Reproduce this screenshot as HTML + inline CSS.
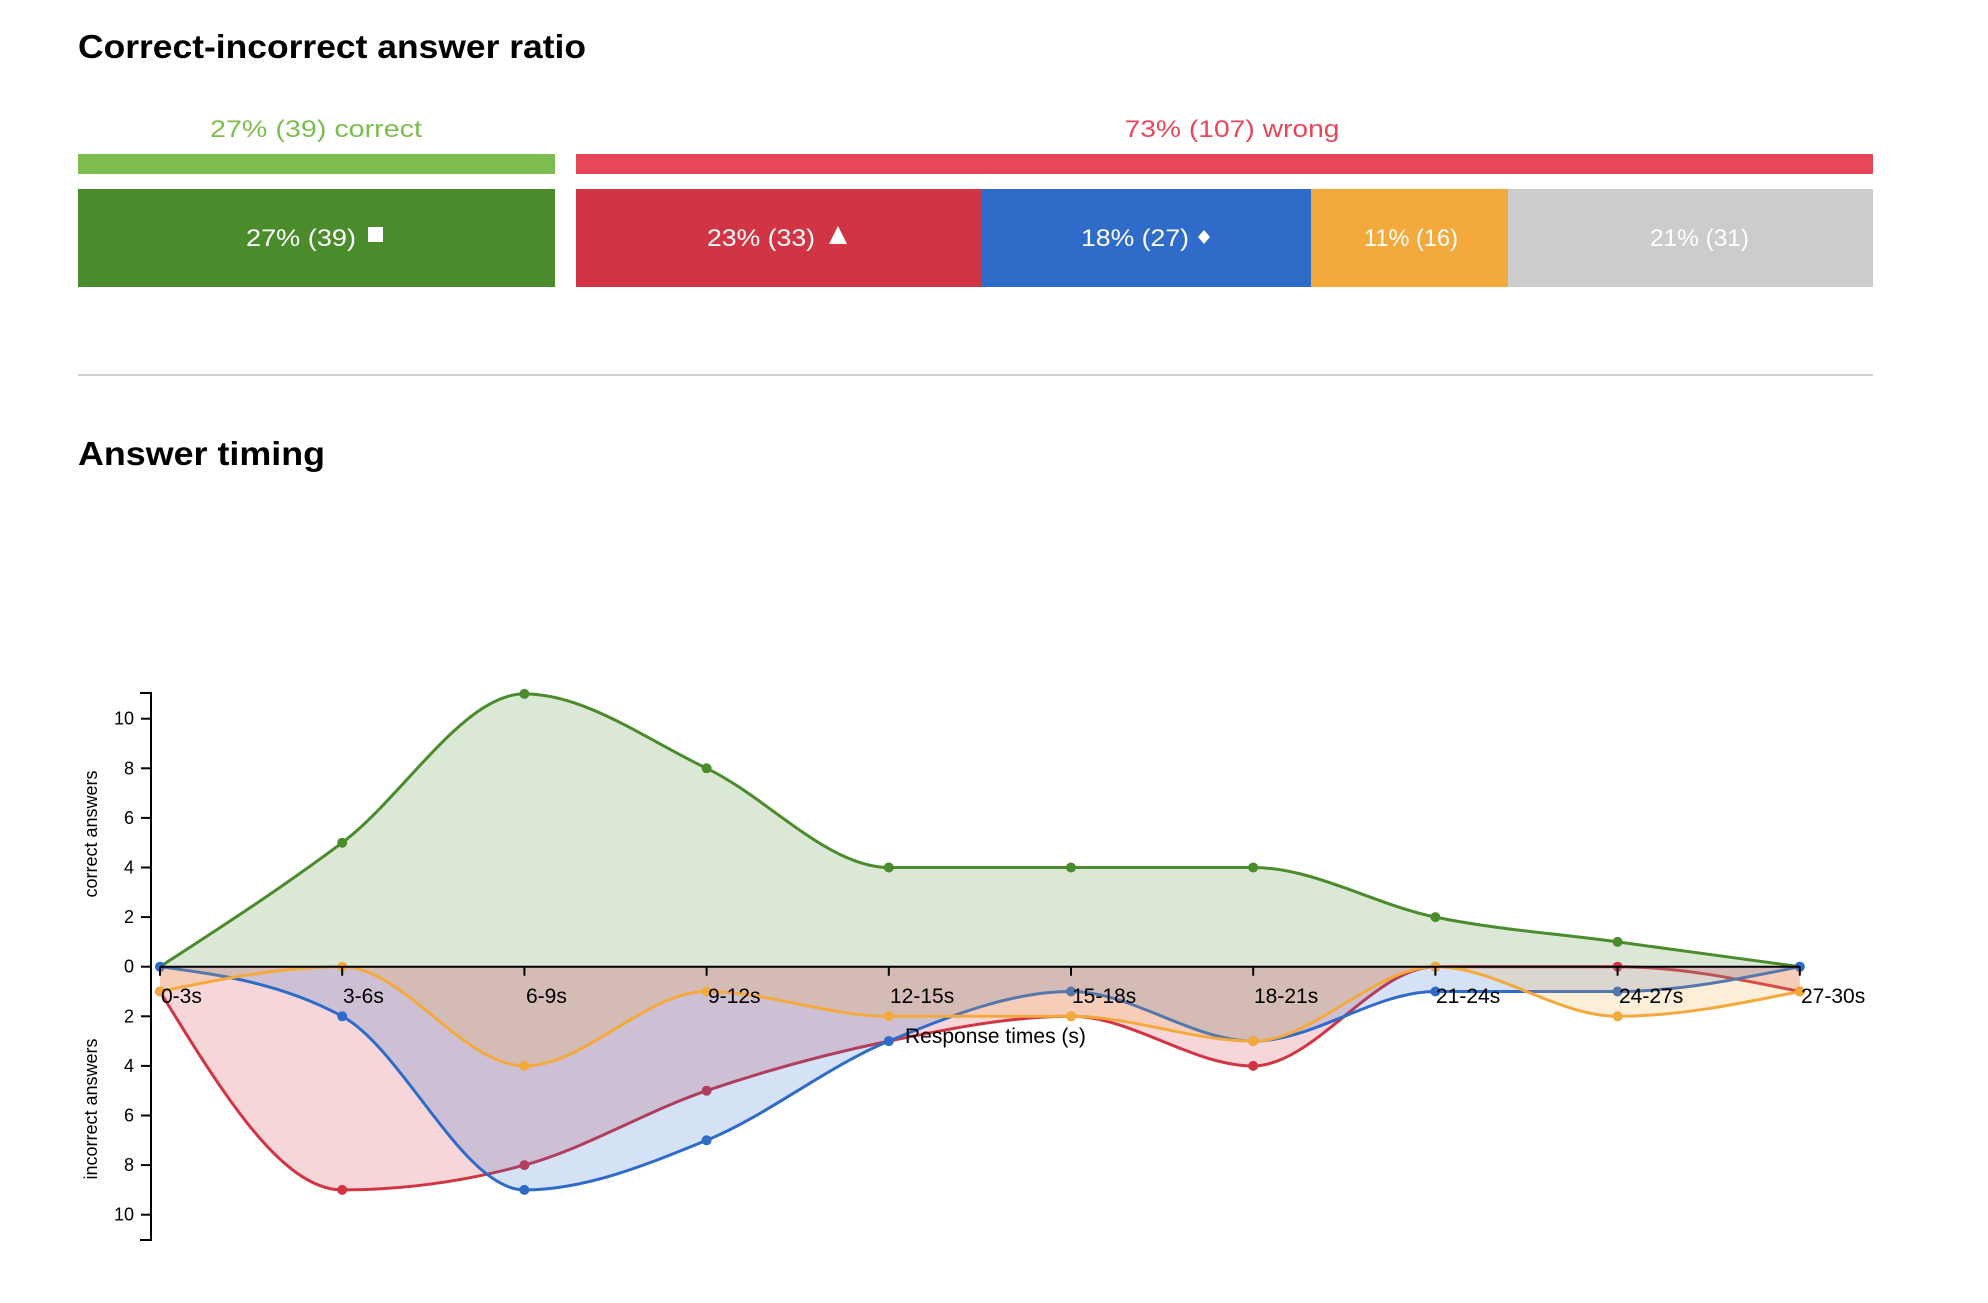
<!DOCTYPE html>
<html><head><meta charset="utf-8"><style>
html,body{margin:0;padding:0;background:#fff;}
svg{display:block;font-family:"Liberation Sans",Arial,sans-serif;}
</style></head><body>
<svg id="s" width="1988" height="1303" viewBox="0 0 1988 1303" xmlns="http://www.w3.org/2000/svg">
<rect width="1988" height="1303" fill="#fff"/>
<text x="78" y="58" font-size="33" font-weight="bold" fill="#000" textLength="508" lengthAdjust="spacingAndGlyphs">Correct-incorrect answer ratio</text>
<text x="316" y="137" font-size="24" fill="#7dbd4f" text-anchor="middle" textLength="212" lengthAdjust="spacingAndGlyphs">27% (39) correct</text>
<text x="1232" y="137" font-size="24" fill="#e8475a" text-anchor="middle" textLength="215" lengthAdjust="spacingAndGlyphs">73% (107) wrong</text>
<rect x="78" y="154" width="477" height="20" fill="#7dbd4f"/>
<rect x="576" y="154" width="1297" height="20" fill="#e8475a"/>
<rect x="78" y="189" width="477" height="98" fill="#4a8b2c"/>
<rect x="576" y="189" width="406" height="98" fill="#d13443"/>
<rect x="981" y="189" width="331" height="98" fill="#2f6bc9"/>
<rect x="1311" y="189" width="198" height="98" fill="#f3a93c"/>
<rect x="1508" y="189" width="365" height="98" fill="#cccccc"/>
<g fill="#fff" font-size="24">
<text x="246" y="246" textLength="110" lengthAdjust="spacingAndGlyphs">27% (39)</text>
<rect x="368" y="227" width="15" height="15"/>
<text x="707" y="246" textLength="108" lengthAdjust="spacingAndGlyphs">23% (33)</text>
<polygon points="838,226 829,244 847,244"/>
<text x="1081" y="246" textLength="108" lengthAdjust="spacingAndGlyphs">18% (27)</text>
<polygon points="1204,230 1210,237 1204,244 1198,237"/>
<text x="1364" y="246" textLength="94" lengthAdjust="spacingAndGlyphs">11% (16)</text>
<text x="1650" y="246" textLength="99" lengthAdjust="spacingAndGlyphs">21% (31)</text>
</g>
<rect x="78" y="374" width="1795" height="2" fill="#d0d0d0"/>
<text x="78" y="465" font-size="33" font-weight="bold" fill="#000" textLength="247" lengthAdjust="spacingAndGlyphs">Answer timing</text>
<g id="plot"></g>
<g id="axes" stroke="#000" stroke-width="2" fill="none"></g>
<g id="labels" font-size="21" fill="#000">
<text x="161" y="1003">0-3s</text>
<text x="343" y="1003">3-6s</text>
<text x="526" y="1003">6-9s</text>
<text x="708" y="1003">9-12s</text>
<text x="890" y="1003">12-15s</text>
<text x="1072" y="1003">15-18s</text>
<text x="1254" y="1003">18-21s</text>
<text x="1436" y="1003">21-24s</text>
<text x="1619" y="1003">24-27s</text>
<text x="1801" y="1003">27-30s</text>
<text x="905" y="1043" font-size="21">Response times (s)</text>
<text transform="translate(97,834) rotate(-90)" text-anchor="middle" font-size="18">correct answers</text>
<text transform="translate(97,1109) rotate(-90)" text-anchor="middle" font-size="18">incorrect answers</text>
</g>
<g id="yl" font-size="18" fill="#000" text-anchor="end"></g>
</svg>
<script>
var NS="http://www.w3.org/2000/svg";
var X0=160,DX=182.2,Y0=966.7,U=24.8;
function el(t,a,p){var e=document.createElementNS(NS,t);for(var k in a)e.setAttribute(k,a[k]);p.appendChild(e);return e;}
function mono(xs,ys){
 var n=xs.length,s=[],t=[];
 for(var i=0;i<n-1;i++)s.push((ys[i+1]-ys[i])/(xs[i+1]-xs[i]));
 for(var i=1;i<n-1;i++){
  var s0=s[i-1],s1=s[i],h0=xs[i]-xs[i-1],h1=xs[i+1]-xs[i];
  if(s0*s1<=0){t[i]=0;continue;}
  var p=(s0*h1+s1*h0)/(h0+h1);
  t[i]=(Math.sign(s0)+Math.sign(s1))*Math.min(Math.abs(s0),Math.abs(s1),0.5*Math.abs(p));
 }
 t[0]=(3*s[0]-t[1])/2; t[n-1]=(3*s[n-2]-t[n-2])/2;
 var d="M"+xs[0]+","+ys[0];
 for(var i=0;i<n-1;i++){var h=(xs[i+1]-xs[i])/3;
  d+="C"+(xs[i]+h)+","+(ys[i]+t[i]*h)+","+(xs[i+1]-h)+","+(ys[i+1]-t[i+1]*h)+","+xs[i+1]+","+ys[i+1];}
 return d;
}
var series=[
 {v:[0,5,11,8,4,4,4,2,1,0],sign:-1,c:"#4a8b2c"},
 {v:[1,9,8,5,3,2,4,0,0,1],sign:1,c:"#d13443"},
 {v:[0,2,9,7,3,1,3,1,1,0],sign:1,c:"#2f6bc9"},
 {v:[1,0,4,1,2,2,3,0,2,1],sign:1,c:"#f3a93c"}
];
var plot=document.getElementById("plot");
series.forEach(function(se){
 var xs=[],ys=[];
 se.v.forEach(function(v,i){xs.push(X0+DX*i);ys.push(Y0+se.sign*U*v);});
 var d=mono(xs,ys);
 el("path",{d:d+"L"+xs[xs.length-1]+","+Y0+"L"+xs[0]+","+Y0+"Z",fill:se.c,"fill-opacity":"0.2",stroke:"none"},plot);
 el("path",{d:d,fill:"none",stroke:se.c,"stroke-width":"3"},plot);
 for(var i=0;i<xs.length;i++)el("circle",{cx:xs[i],cy:ys[i],r:"5",fill:se.c},plot);
});
var ax=document.getElementById("axes");
el("path",{d:"M140,693H151V1240H140"},ax);
el("path",{d:"M"+X0+","+Y0+"H"+(X0+DX*9)},ax);
for(var i=0;i<10;i++)el("path",{d:"M"+(X0+DX*i)+","+Y0+"v9"},ax);
var yl=document.getElementById("yl");
for(var v=0;v<=10;v+=2){
 [-1,1].forEach(function(sg){
  if(v==0&&sg==1)return;
  var y=Y0+sg*U*v;
  el("path",{d:"M141,"+y+"H151"},ax);
  var t=el("text",{x:"134",y:(y+6)},yl);t.textContent=v;
 });
}
</script>
</body></html>
